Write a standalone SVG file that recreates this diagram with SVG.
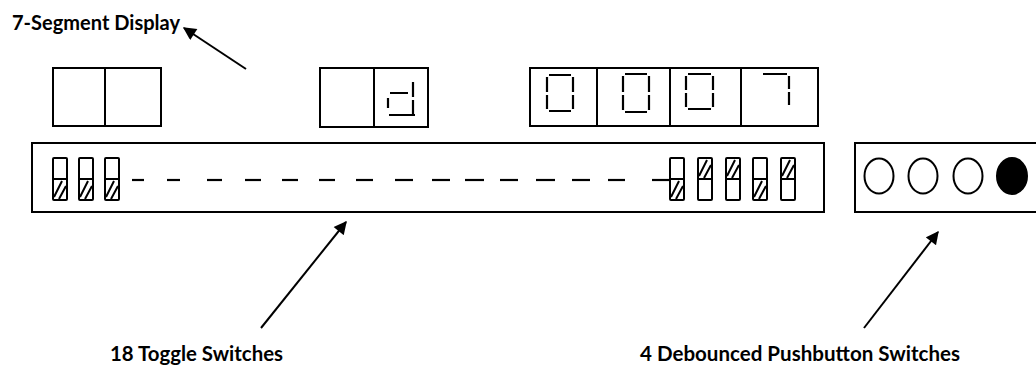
<svg xmlns="http://www.w3.org/2000/svg" width="1036" height="367" viewBox="0 0 1036 367">
  <style>
    .box { fill: #fff; stroke: #000; stroke-width: 2; }
    .div { stroke: #000; stroke-width: 2; fill: none; }
    .seg { stroke: #000; stroke-width: 2.2; fill: none; stroke-linecap: butt; }
    .sw { fill: #fff; stroke: #000; stroke-width: 2; }
    .hatch { stroke: #000; stroke-width: 2; fill: none; }
    .dash { stroke: #000; stroke-width: 2.2; }
    .btn { fill: #fff; stroke: #000; stroke-width: 2; }
    .btn-on { fill: #000; stroke: #000; stroke-width: 2; }
    .conn { stroke: #000; stroke-width: 2; fill: none; }
    .label { font-family: Lato, "Liberation Sans", sans-serif; font-weight: bold; font-size: 20px; fill: #000; }
  </style>
  <defs>
    <marker id="head" viewBox="0 0 10 10" refX="9" refY="5" markerWidth="7" markerHeight="6.5" orient="auto" markerUnits="strokeWidth">
      <path d="M0,0 L10,5 L0,10 Z" fill="#000"/>
    </marker>
    <!-- one toggle switch: two halves split at mid height -->
    <g id="switch">
      <rect class="sw" x="0" y="0" width="14" height="42" rx="1"/>
      <line class="div" x1="0" y1="21" x2="14" y2="21"/>
    </g>
    <path id="hatchLow" class="hatch" d="M1,39 L9,23 M6,41 L13,28"/>
    <path id="hatchHigh" class="hatch" d="M1,18 L9,2 M6,20 L13,7"/>
  </defs>

  <!-- left pair of seven-segment digits -->
  <g id="display-left">
    <rect class="box" x="53" y="68" width="108" height="58"/>
    <line class="div" x1="105" y1="68" x2="105" y2="126"/>
  </g>

  <!-- middle pair showing "d" -->
  <g id="display-mid">
    <rect class="box" x="320" y="68" width="108" height="59"/>
    <line class="div" x1="374" y1="68" x2="374" y2="127"/>
    <path class="seg" d="M413,82 V97 M413,100 V114 M390,93 H408 M388,98 V108 M389,115 H415"/>
  </g>

  <!-- right group of four digits showing 0007 -->
  <g id="display-right">
    <rect class="box" x="530" y="68" width="288" height="58"/>
    <line class="div" x1="597" y1="68" x2="597" y2="126"/>
    <line class="div" x1="670" y1="68" x2="670" y2="126"/>
    <line class="div" x1="741" y1="68" x2="741" y2="126"/>
    <path class="seg" d="M549,75 H571 M547,77 V92 M547,95 V109 M573,77 V92 M573,95 V109 M549,111 H571"/>
    <path class="seg" d="M625,74 H647 M623,76 V92 M623,95 V110 M649,76 V92 M649,95 V110 M625,112 H647"/>
    <path class="seg" d="M688,74 H711 M686,76 V90 M686,93 V107 M713,76 V90 M713,93 V107 M688,109 H711"/>
    <path class="seg" d="M763,74 H787 M789,76 V89 M789,92 V105"/>
  </g>

  <!-- eighteen toggle switches, middle ones elided by dashes -->
  <g id="toggle-switches">
    <rect class="box" x="32" y="143" width="792" height="69"/>
    <use href="#switch" x="53" y="158"/><use href="#hatchLow" x="53" y="158"/>
    <use href="#switch" x="79" y="158"/><use href="#hatchLow" x="79" y="158"/>
    <use href="#switch" x="105" y="158"/><use href="#hatchLow" x="105" y="158"/>
    <g class="dash">
      <line x1="132" y1="180" x2="144" y2="180"/>
      <line x1="167" y1="180" x2="180" y2="180"/>
      <line x1="207" y1="180" x2="222" y2="180"/>
      <line x1="245" y1="180" x2="261" y2="180"/>
      <line x1="282" y1="180" x2="298" y2="180"/>
      <line x1="319" y1="180" x2="335" y2="180"/>
      <line x1="356" y1="180" x2="373" y2="180"/>
      <line x1="395" y1="180" x2="413" y2="180"/>
      <line x1="432" y1="180" x2="450" y2="180"/>
      <line x1="465" y1="180" x2="484" y2="180"/>
      <line x1="500" y1="180" x2="518" y2="180"/>
      <line x1="536" y1="180" x2="555" y2="180"/>
      <line x1="572" y1="180" x2="590" y2="180"/>
      <line x1="608" y1="180" x2="625" y2="180"/>
      <line x1="652" y1="180" x2="669" y2="180"/>
    </g>
    <use href="#switch" x="670" y="158"/><use href="#hatchLow" x="670" y="158"/>
    <use href="#switch" x="698" y="158"/><use href="#hatchHigh" x="698" y="158"/>
    <use href="#switch" x="726" y="158"/><use href="#hatchHigh" x="726" y="158"/>
    <use href="#switch" x="753" y="158"/><use href="#hatchLow" x="753" y="158"/>
    <use href="#switch" x="781" y="158"/><use href="#hatchHigh" x="781" y="158"/>
  </g>

  <!-- four pushbuttons, the last one pressed -->
  <g id="pushbuttons">
    <rect class="box" x="855" y="143" width="200" height="69"/>
    <ellipse class="btn" cx="879" cy="176" rx="14.5" ry="17.5"/>
    <ellipse class="btn" cx="923" cy="176" rx="14.5" ry="17.5"/>
    <ellipse class="btn" cx="968" cy="176" rx="14.5" ry="17.5"/>
    <ellipse class="btn-on" cx="1012" cy="176" rx="15" ry="18"/>
  </g>

  <!-- pointer arrows -->
  <g id="connectors">
    <line class="conn" x1="246" y1="69" x2="184" y2="28" marker-end="url(#head)"/>
    <line class="conn" x1="261" y1="328" x2="346" y2="222" marker-end="url(#head)"/>
    <line class="conn" x1="864" y1="328" x2="938" y2="232" marker-end="url(#head)"/>
  </g>

  <!-- captions -->
  <g id="labels">
    <text class="label" x="12" y="30" textLength="168" lengthAdjust="spacingAndGlyphs">7-Segment Display</text>
    <text class="label" x="110" y="361" textLength="173" lengthAdjust="spacingAndGlyphs">18 Toggle Switches</text>
    <text class="label" x="640" y="361" textLength="320" lengthAdjust="spacingAndGlyphs">4 Debounced Pushbutton Switches</text>
  </g>
</svg>
